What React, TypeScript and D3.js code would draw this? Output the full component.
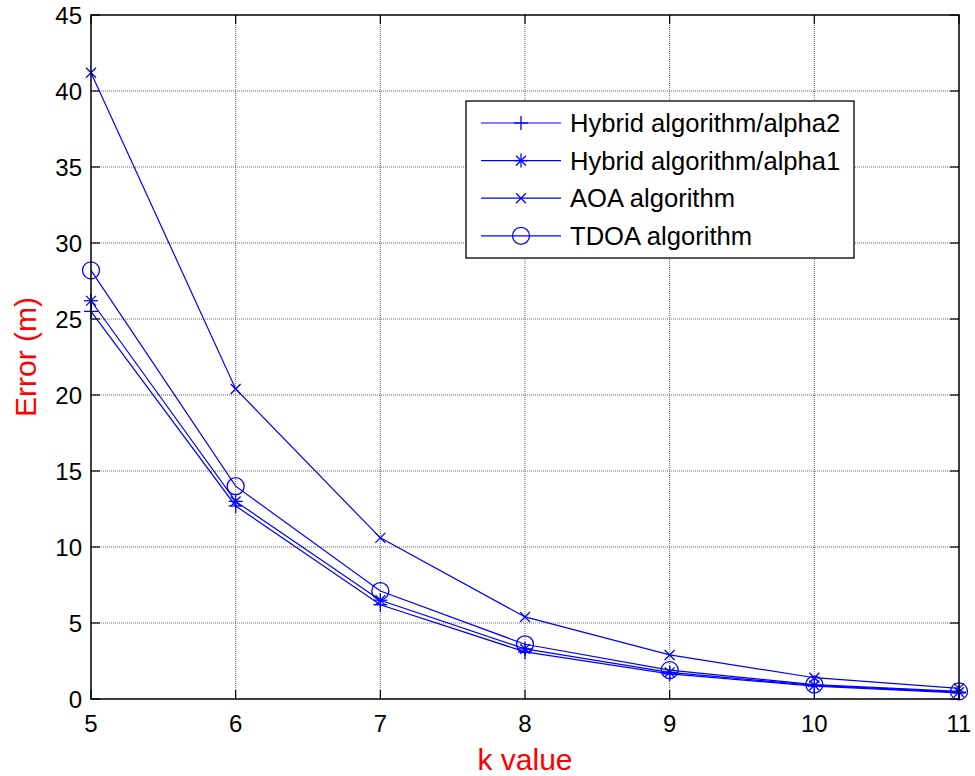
import React, { useEffect, useRef } from 'react';
import * as d3 from 'd3';

const kValues = [5, 6, 7, 8, 9, 10, 11];
const alpha2 = [25.5, 12.7, 6.2, 3.1, 1.65, 0.85, 0.4];
const alpha1 = [26.2, 13.0, 6.5, 3.3, 1.75, 0.9, 0.45];
const aoa = [41.2, 20.4, 10.6, 5.4, 2.9, 1.4, 0.7];
const tdoa = [28.2, 14.0, 7.1, 3.6, 1.9, 0.95, 0.5];
const yTicks = [0, 5, 10, 15, 20, 25, 30, 35, 40, 45];

const seriesNames = [
  'Hybrid algorithm/alpha2',
  'Hybrid algorithm/alpha1',
  'AOA algorithm',
  'TDOA algorithm',
];
const seriesValues = [alpha2, alpha1, aoa, tdoa];
const markerKinds = ['plus', 'star', 'cross', 'circle'];

const FONT = 'Arial, "Liberation Sans", sans-serif';
const BLUE = '#0000ff';

const drawMarker = (g, kind, x, y) => {
  const m = g.append('g').attr('transform', `translate(${x},${y})`)
    .attr('stroke', BLUE).attr('fill', 'none').attr('stroke-width', 1.3);
  const s = 7;
  if (kind === 'plus' || kind === 'star') {
    m.append('line').attr('x1', -s).attr('x2', s).attr('y1', 0).attr('y2', 0);
    m.append('line').attr('x1', 0).attr('x2', 0).attr('y1', -s).attr('y2', s);
  }
  if (kind === 'star') {
    const d = s * 0.7;
    m.append('line').attr('x1', -d).attr('x2', d).attr('y1', -d).attr('y2', d);
    m.append('line').attr('x1', -d).attr('x2', d).attr('y1', d).attr('y2', -d);
  }
  if (kind === 'cross') {
    const d = 5;
    m.append('line').attr('x1', -d).attr('x2', d).attr('y1', -d).attr('y2', d);
    m.append('line').attr('x1', -d).attr('x2', d).attr('y1', d).attr('y2', -d);
  }
  if (kind === 'circle') {
    m.append('circle').attr('r', 8.5);
  }
};

const App = () => {
  const ref = useRef(null);

  useEffect(() => {
    document.body.style.margin = '0';
    const svg = d3.select(ref.current);
    svg.selectAll('*').remove();

    const left = 91, right = 959, top = 15, bottom = 699;

    const x = d3.scaleLinear().domain([5, 11]).range([left, right]);
    const y = d3.scaleLinear().domain([0, 45]).range([bottom, top]);

    svg.append('rect').attr('width', 975).attr('height', 776).attr('fill', '#fff');

    // grid
    const grid = svg.append('g').attr('stroke', '#666').attr('stroke-width', 1)
      .attr('stroke-dasharray', '1,1');
    kValues.slice(1, -1).forEach(k => {
      grid.append('line').attr('x1', x(k)).attr('x2', x(k)).attr('y1', top).attr('y2', bottom);
    });
    yTicks.slice(1, -1).forEach(v => {
      grid.append('line').attr('x1', left).attr('x2', right).attr('y1', y(v)).attr('y2', y(v));
    });

    // inner ticks
    const ticks = svg.append('g').attr('stroke', '#000').attr('stroke-width', 1.2);
    kValues.forEach(k => {
      ticks.append('line').attr('x1', x(k)).attr('x2', x(k)).attr('y1', bottom).attr('y2', bottom - 9);
      ticks.append('line').attr('x1', x(k)).attr('x2', x(k)).attr('y1', top).attr('y2', top + 9);
    });
    yTicks.forEach(v => {
      ticks.append('line').attr('x1', left).attr('x2', left + 9).attr('y1', y(v)).attr('y2', y(v));
      ticks.append('line').attr('x1', right).attr('x2', right - 9).attr('y1', y(v)).attr('y2', y(v));
    });

    // series
    const line = d3.line()
      .x((d, i) => x(kValues[i]))
      .y(d => y(d));
    seriesValues.forEach((vals, si) => {
      svg.append('path').datum(vals).attr('d', line)
        .attr('fill', 'none').attr('stroke', BLUE).attr('stroke-width', 1.2);
      vals.forEach((v, i) => drawMarker(svg, markerKinds[si], x(kValues[i]), y(v)));
    });

    // frame
    svg.append('rect').attr('x', left).attr('y', top)
      .attr('width', right - left).attr('height', bottom - top)
      .attr('fill', 'none').attr('stroke', '#000').attr('stroke-width', 1.5);

    // tick labels
    svg.append('g').selectAll('text').data(kValues).join('text')
      .attr('x', d => x(d)).attr('y', bottom + 33)
      .attr('text-anchor', 'middle').attr('font-family', FONT).attr('font-size', 24)
      .text(d => d);
    svg.append('g').selectAll('text').data(yTicks).join('text')
      .attr('x', left - 9).attr('y', d => y(d) + 9)
      .attr('text-anchor', 'end').attr('font-family', FONT).attr('font-size', 24)
      .text(d => d);

    // axis labels
    svg.append('text').attr('x', (left + right) / 2).attr('y', 770)
      .attr('text-anchor', 'middle').attr('font-family', FONT).attr('font-size', 30)
      .attr('fill', '#ff0000').text('k value');
    svg.append('text').attr('transform', `translate(36,${(top + bottom) / 2}) rotate(-90)`)
      .attr('text-anchor', 'middle').attr('font-family', FONT).attr('font-size', 30)
      .attr('fill', '#ff0000').text('Error (m)');

    // legend
    const lg = svg.append('g');
    lg.append('rect').attr('x', 466).attr('y', 101).attr('width', 388).attr('height', 157)
      .attr('fill', '#fff').attr('stroke', '#000').attr('stroke-width', 1.3);
    seriesNames.forEach((name, i) => {
      const ry = 123 + i * 37.6;
      lg.append('line').attr('x1', 481).attr('x2', 561).attr('y1', ry).attr('y2', ry)
        .attr('stroke', BLUE).attr('stroke-width', 1.2);
      drawMarker(lg, markerKinds[i], 521, ry);
      lg.append('text').attr('x', 570).attr('y', ry + 9)
        .attr('font-family', FONT).attr('font-size', 25.6).text(name);
    });
  }, []);

  return <svg ref={ref} width={975} height={776} style={{ display: 'block' }} />;
};

export default App;
